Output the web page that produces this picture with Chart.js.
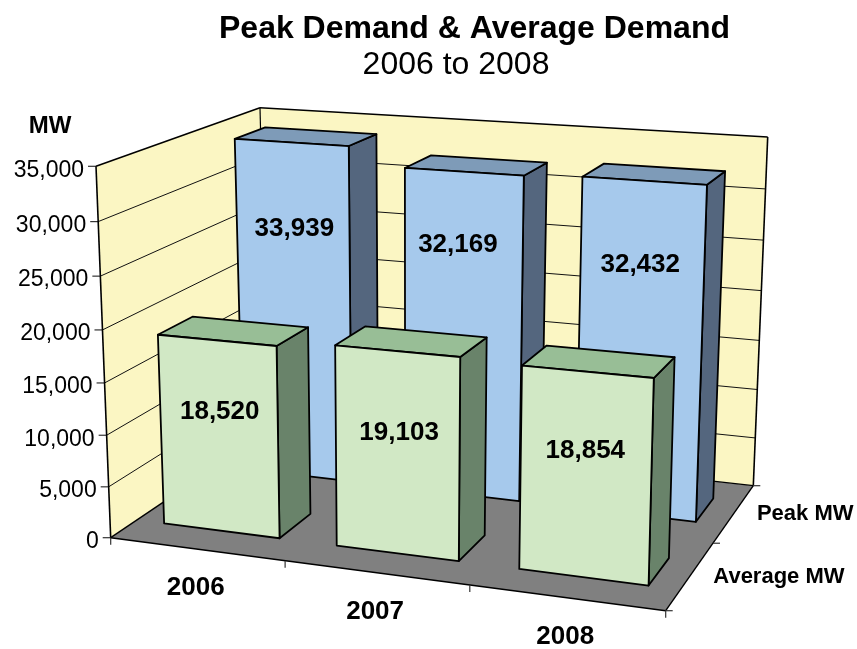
<!DOCTYPE html>
<html>
<head>
<meta charset="utf-8">
<title>Peak Demand & Average Demand</title>
<script src="https://cdn.jsdelivr.net/npm/chart.js@4"></script>
<style>
    html, body { margin: 0; padding: 0; background: #fff; }
    #wrap { width: 857px; height: 649px; }
</style>
</head>
<body>
<div id="wrap"><canvas id="chart" width="857" height="649"></canvas></div>
<script>
const categories = ['2006', '2007', '2008'];
const averageMW = [18520, 19103, 18854];
const peakMW = [33939, 32169, 32432];
const seriesNames = ['Average MW', 'Peak MW'];
const maxMW = 35000;
const stepMW = 5000;

// the picture's "camera": where the plot box corners land (front-left, front-right, back-right, back-left)
const FLOOR = [[110.7, 537.7], [665.7, 610.7], [753.3, 485.7], [268, 431.7]];
const ROOF = [[96, 166.3], [676, 205], [767.7, 137], [260, 107.7]];
const FONT = '"Liberation Sans", Arial, sans-serif';
const BAR_DEPTH = 0.41;
// value labels were placed by hand in the original: [dx, drop below bar top], [average row, peak row]
const LABEL_NUDGE = [
    [[3, 72], [2, 82], [-2, 79]],
    [[3, 86], [-6, 73], [-4, 84]],
];

const SHADES = [
    { front: '#d1e8c5', top: '#98be96', side: '#69836a' },
    { front: '#a6c9ec', top: '#7e9bb8', side: '#54667e' },
];

function homography(q) {
    const [[x0, y0], [x1, y1], [x2, y2], [x3, y3]] = q;
    const dx1 = x1 - x2, dx2 = x3 - x2, sx = x0 - x1 + x2 - x3;
    const dy1 = y1 - y2, dy2 = y3 - y2, sy = y0 - y1 + y2 - y3;
    const det = dx1 * dy2 - dx2 * dy1;
    const g = (sx * dy2 - dx2 * sy) / det;
    const h = (dx1 * sy - sx * dy1) / det;
    return (u, v) => {
        const d = g * u + h * v + 1;
        return [
            ((x1 - x0 + g * x1) * u + (x3 - x0 + h * x3) * v + x0) / d,
            ((y1 - y0 + g * y1) * u + (y3 - y0 + h * y3) * v + y0) / d,
        ];
    };
}

const floorAt = homography(FLOOR);
const roofAt = homography(ROOF);

function project(u, v, w) {
    const a = floorAt(u, v), b = roofAt(u, v);
    const t = w / (w + (1 - w) * 1.05);
    return [a[0] + (b[0] - a[0]) * t, a[1] + (b[1] - a[1]) * t];
}

function face(ctx, pts, fill, stroke, lw) {
    ctx.beginPath();
    pts.forEach((p, i) => (i ? ctx.lineTo(p[0], p[1]) : ctx.moveTo(p[0], p[1])));
    ctx.closePath();
    if (fill) { ctx.fillStyle = fill; ctx.fill(); }
    if (stroke) { ctx.strokeStyle = stroke; ctx.lineWidth = lw; ctx.stroke(); }
}

function line(ctx, a, b, color, lw) {
    ctx.beginPath();
    ctx.moveTo(a[0], a[1]);
    ctx.lineTo(b[0], b[1]);
    ctx.strokeStyle = color;
    ctx.lineWidth = lw;
    ctx.stroke();
}

function text(ctx, str, x, y, font, align) {
    ctx.font = font;
    ctx.fillStyle = '#000';
    ctx.textAlign = align;
    ctx.textBaseline = 'middle';
    ctx.fillText(str, x, y);
}

function drawBox(ctx) {
    const wall = '#fbf6c3';
    face(ctx, [project(0, 0, 0), project(1, 0, 0), project(1, 1, 0), project(0, 1, 0)], '#808080');
    face(ctx, [project(0, 0, 0), project(0, 1, 0), project(0, 1, 1), project(0, 0, 1)], wall);
    face(ctx, [project(0, 1, 0), project(1, 1, 0), project(1, 1, 1), project(0, 1, 1)], wall);
}

function drawGrid(ctx, yScale) {
    yScale.ticks.forEach(t => {
        const w = t.value / maxMW;
        if (w > 0 && w < 1) {
            line(ctx, project(0, 0, w), project(0, 1, w), '#111', 1);
            line(ctx, project(0, 1, w), project(1, 1, w), '#111', 1);
        }
        const p = project(0, 0, w);
        line(ctx, p, [p[0] - 8, p[1]], '#333', 1.2);
        text(ctx, t.label, p[0] - 12, p[1] + 4, '23px ' + FONT, 'right');
    });
    line(ctx, project(0, 0, 0), project(0, 0, 1), '#000', 1.6);
    line(ctx, project(0, 0, 1), project(0, 1, 1), '#000', 1.6);
    line(ctx, project(0, 1, 1), project(1, 1, 1), '#000', 1.6);
    line(ctx, project(1, 1, 1), project(1, 1, 0), '#000', 1.6);
    line(ctx, project(0, 1, 0), project(0, 1, 1), '#000', 1.2);
    line(ctx, project(0, 1, 0), project(1, 1, 0), '#000', 1.2);
    line(ctx, project(0, 0, 0), project(1, 0, 0), '#000', 1.4);
    line(ctx, project(1, 0, 0), project(1, 1, 0), '#000', 1.4);
    line(ctx, project(0, 0, 0), project(0, 1, 0), '#000', 1.4);
}

function drawAxisLabels(ctx, xScale) {
    xScale.ticks.forEach((t, i) => {
        const u = (xScale.getPixelForTick(i) - xScale.left) / xScale.width;
        const p = project(u, 0, 0);
        text(ctx, categories[i], p[0] - 1, p[1] + 39, 'bold 26px ' + FONT, 'center');
    });
    for (let i = 0; i <= categories.length; i++) {
        const p = project(i / categories.length, 0, 0);
        line(ctx, p, [p[0], p[1] + 7], '#333', 1.2);
    }
    seriesNames.forEach((name, i) => {
        const p = project(1, (i + 0.5) / seriesNames.length, 0);
        text(ctx, name, p[0] + 23, p[1] + 1, 'bold 22px ' + FONT, 'left');
    });
    for (let i = 0; i <= seriesNames.length; i++) {
        const p = project(1, i / seriesNames.length, 0);
        line(ctx, p, [p[0] + 7, p[1]], '#333', 1.2);
    }
    text(ctx, 'MW', 50, 126, 'bold 24px ' + FONT, 'center');
    // sits left of the main title in the picture, so the subtitle plugin can't place it
    text(ctx, '2006 to 2008', 456, 65, '32px ' + FONT, 'center');
}

function drawBars(chart, ctx) {
    const { chartArea: area, scales } = chart;
    // back row first so the front row covers it
    [1, 0].forEach(row => {
        const c = SHADES[row];
        const inset = (1 - BAR_DEPTH) / 2 / seriesNames.length;
        const v0 = row / seriesNames.length + inset;
        const v1 = (row + 1) / seriesNames.length - inset;
        chart.getDatasetMeta(row).data.forEach((bar, i) => {
            const u0 = (bar.x - bar.width / 2 - area.left) / area.width;
            const u1 = (bar.x + bar.width / 2 - area.left) / area.width;
            const w = (scales.y.bottom - bar.y) / scales.y.height;
            face(ctx, [project(u1, v0, 0), project(u1, v1, 0), project(u1, v1, w), project(u1, v0, w)], c.side, '#000', 1.8);
            face(ctx, [project(u0, v0, w), project(u1, v0, w), project(u1, v1, w), project(u0, v1, w)], c.top, '#000', 1.8);
            face(ctx, [project(u0, v0, 0), project(u1, v0, 0), project(u1, v0, w), project(u0, v0, w)], c.front, '#000', 1.8);
            const value = chart.data.datasets[row].data[i];
            const mid = project((u0 + u1) / 2, v0, w);
            const [dx, drop] = LABEL_NUDGE[row][i];
            text(ctx, value.toLocaleString('en-US'), mid[0] + dx, mid[1] + drop, 'bold 26px ' + FONT, 'center');
        });
    });
}

const scene3d = {
    id: 'scene3d',
    // the flat bars only serve as the source of the geometry
    beforeDatasetsDraw(chart) {
        const ctx = chart.ctx;
        ctx.save();
        ctx.lineJoin = 'round';
        drawBox(ctx);
        drawGrid(ctx, chart.scales.y);
        drawAxisLabels(ctx, chart.scales.x);
        drawBars(chart, ctx);
        ctx.restore();
        return false;
    },
};

new Chart(document.getElementById('chart'), {
    type: 'bar',
    data: {
        labels: categories,
        datasets: [
            { label: seriesNames[0], data: averageMW, backgroundColor: SHADES[0].front },
            { label: seriesNames[1], data: peakMW, backgroundColor: SHADES[1].front },
        ],
    },
    options: {
        responsive: false,
        animation: false,
        layout: { padding: { left: 92 } },
        grouped: false,
        barPercentage: 0.675,
        categoryPercentage: 1,
        plugins: {
            legend: { display: false },
            tooltip: { enabled: false },
            title: {
                display: true,
                text: 'Peak Demand & Average Demand',
                color: '#000',
                font: { family: FONT, size: 32, weight: 'bold' },
                padding: { top: 10, bottom: 50 },
            },
        },
        scales: {
            x: { display: false },
            y: { display: false, min: 0, max: maxMW, ticks: { stepSize: stepMW } },
        },
    },
    plugins: [scene3d],
});
</script>
</body>
</html>
